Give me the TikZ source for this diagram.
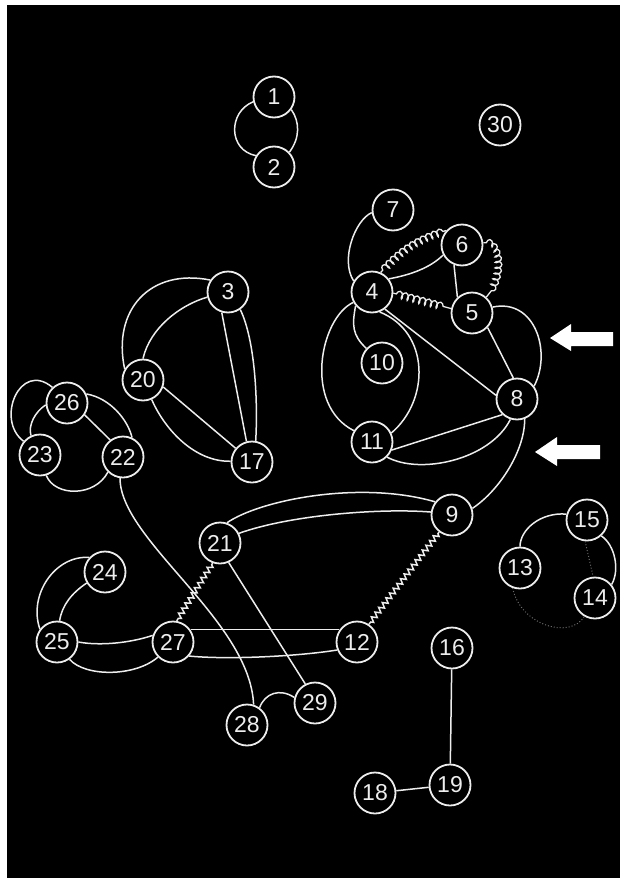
\documentclass[tikz,border=0pt]{standalone}
\usepackage{fontspec}
\setmainfont{Liberation Sans}
\usetikzlibrary{decorations.pathmorphing}
\definecolor{fg}{gray}{0.93}
\begin{document}
\begin{tikzpicture}[x=1pt,y=-1pt,
 v/.style={circle,draw=fg,line width=1.8pt,minimum size=41pt,inner sep=0pt,text=fg,font=\fontsize{23}{23}\selectfont},
 e/.style={draw=fg,line width=1.5pt},
 zig/.style={e,decorate,decoration={zigzag,segment length=6pt,amplitude=2.6pt,pre length=2pt,post length=2pt}},
 spring/.style={e,line width=1.3pt,decorate,decoration={coil,amplitude=3.5pt,segment length=6pt,pre length=3pt,post length=3pt}},
 dots/.style={draw=fg!45!black,line width=1pt,dotted}]
\useasboundingbox (0,0) rectangle (620,881);
\fill[white] (0,0) rectangle (620,881);
\fill[black] (7,5) rectangle (620,878);

\node[v] (n1) at (274,97) {1};
\node[v] (n2) at (274,167) {2};
\node[v] (n30) at (500,125) {30};
\node[v] (n7) at (393,210) {7};
\node[v] (n6) at (462,245) {6};
\node[v] (n4) at (372,292) {4};
\node[v] (n5) at (472,313) {5};
\node[v] (n10) at (382,363) {10};
\node[v] (n8) at (517,399) {8};
\node[v] (n11) at (372,442) {11};
\node[v] (n9) at (452,515) {9};
\node[v] (n15) at (587,520) {15};
\node[v] (n13) at (520,568) {13};
\node[v] (n14) at (595,598) {14};
\node[v] (n3) at (228,292) {3};
\node[v] (n20) at (143,380) {20};
\node[v] (n26) at (67,403) {26};
\node[v] (n23) at (40,455) {23};
\node[v] (n22) at (123,457) {22};
\node[v] (n17) at (252,462) {17};
\node[v] (n21) at (220,543) {21};
\node[v] (n24) at (105,572) {24};
\node[v] (n25) at (57,642) {25};
\node[v] (n27) at (173,642) {27};
\node[v] (n12) at (357,642) {12};
\node[v] (n16) at (452,648) {16};
\node[v] (n19) at (450,785) {19};
\node[v] (n18) at (375,793) {18};
\node[v] (n28) at (247,725) {28};
\node[v] (n29) at (315,703) {29};

% 1-2
\draw[e] (n1.193) .. controls (228,112) and (228,150) .. (n2.148);
\draw[e] (n1.-36) .. controls (300,122) and (300,138) .. (n2.44);
% 3-20-17
\draw[e] (n3.146) .. controls (150,268) and (112,310) .. (n20.149);
\draw[e] (n3.194) .. controls (180,305) and (150,328) .. (n20.90);
\draw[e] (n3.-107) -- (n17.105);
\draw[e] (n3.-55) .. controls (255,340) and (258,400) .. (n17.80);
\draw[e] (n20.-19) -- (n17.140);
\draw[e] (n20.-66) .. controls (165,430) and (195,462) .. (n17.178);
% 26-23-22
\draw[e] (n26.133) .. controls (20,360) and (-5,420) .. (n23.140);
\draw[e] (n26.185) .. controls (35,412) and (28,425) .. (n23.115);
\draw[e] (n26.-34) -- (n22.127);
\draw[e] (n26.25) .. controls (110,398) and (128,420) .. (n22.65);
\draw[e] (n23.-73) .. controls (55,497) and (95,497) .. (n22.-135);
\draw[e] (n22.-98) .. controls (120,540) and (250,620) .. (n28.72);
% 21, 29, 28
\draw[e] (n21.-66) -- (n29.117);
\draw[e] (n28.54) .. controls (265,693) and (280,688) .. (n29.165);
\draw[e] (n21.71) .. controls (260,500) and (360,480) .. (n9.142);
\draw[e] (n21.27) .. controls (290,515) and (380,508) .. (n9.172);
\draw[zig] (n9.-127) -- (n12.56);
\draw[zig] (n21.-110) -- (n27.80);
\draw[e] (n27.35) -- (n12.145);
\draw[e] (n27.-41) .. controls (230,660) and (300,656) .. (n12.-158);
\draw[e] (n25.0) .. controls (100,646) and (130,643) .. (n27.162);
\draw[e] (n25.-54) .. controls (85,677) and (135,677) .. (n27.-135);
\draw[e] (n24.137) .. controls (55,555) and (28,595) .. (n25.143);
\draw[e] (n24.-149) .. controls (72,593) and (62,605) .. (n25.83);
% 4 cluster
\draw[e] (n7.187) .. controls (355,220) and (340,260) .. (n4.149);
\draw[spring] (n4.66) to[bend left=15] (n6.137);
\draw[e] (n4.38) .. controls (410,275) and (430,268) .. (n6.-152);
\draw[spring] (n4.-3) -- (n5.168);
\draw[e] (n6.-112) -- (n5.133);
\draw[spring] (n6.6) .. controls (500,240) and (505,275) .. (n5.48);
\draw[e] (n5.16) .. controls (535,298) and (552,352) .. (n8.37);
\draw[e] (n5.-43) -- (n8.100);
\draw[e] (n4.-53) -- (n8.170);
\draw[e] (n4.-69) .. controls (430,332) and (430,400) .. (n11.25);
\draw[e] (n4.-151) .. controls (320,318) and (303,405) .. (n11.148);
\draw[e] (n4.-140) .. controls (352,325) and (352,335) .. (n10.137);
\draw[e] (n11.-22) -- (n8.-133);
\draw[e] (n11.-45) .. controls (420,475) and (490,460) .. (n8.-108);
\draw[e] (n8.-69) .. controls (525,450) and (500,490) .. (n9.18);
% 13-15-14
\draw[e] (n13.90) .. controls (520,530) and (540,512) .. (n15.164);
\draw[e] (n15.-48) .. controls (615,545) and (620,570) .. (n14.39);
\draw[dots] (n15.-95) -- (n14.95);
\draw[dots] (n13.-110) .. controls (520,625) and (570,640) .. (n14.-120);
% 16-19-18
\draw[e] (n16) -- (n19);
\draw[e] (n18) -- (n19);
% arrows
\fill[white] (550,338) -- (571,324) -- (571,332) -- (613,332) -- (613,346) -- (571,346) -- (571,351) -- cycle;
\fill[white] (535,452) -- (557,437) -- (557,445) -- (600,445) -- (600,459) -- (557,459) -- (557,466) -- cycle;
\end{tikzpicture}
\end{document}
